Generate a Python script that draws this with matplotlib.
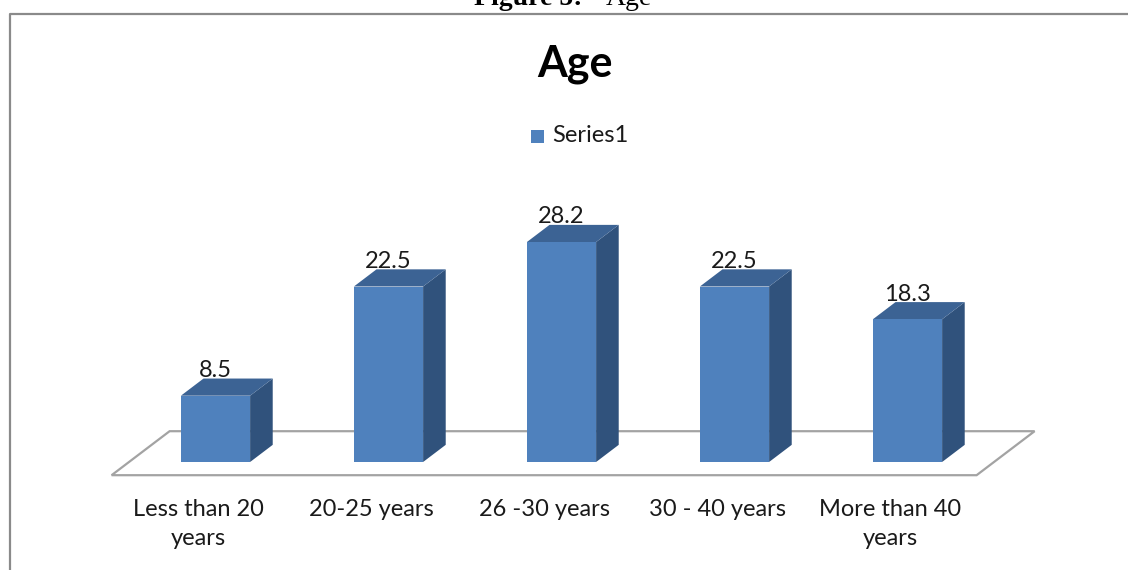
import matplotlib
matplotlib.use('Agg')
import matplotlib.pyplot as plt
from matplotlib.patches import Polygon, Rectangle
from matplotlib.lines import Line2D

categories = ['Less than 20\nyears', '20-25 years', '26 -30 years', '30 - 40 years', 'More than 40\nyears']
values = [8.5, 22.5, 28.2, 22.5, 18.3]
series_name = 'Series1'
chart_title = 'Age'

W, H = 1128, 570
FRONT = '#4F81BD'
TOP = '#3C6394'
SIDE = '#30527C'
FLOOR_EDGE = '#A3A3A3'

# pixel mapping of the plot: category spacing and value scale
X0_PX, STEP_PX = 215.5, 173.0
Y0_PX, UNIT_PX = 462.0, 7.8

BAR_W = 0.4
# depth vector of the whole floor (category units, value units)
DEPTH = (58 / STEP_PX, 44 / UNIT_PX)
BAR_DEPTH = 0.39
FLOOR_FRONT, FLOOR_BACK = -0.3, 0.7


def fx(px):
    return px / W


def fy(py):
    return 1 - py / H


fig = plt.figure(figsize=(W / 100, H / 100), dpi=100)
ax = fig.add_axes([0, 0, 1, 1])
ax.set_xlim(-X0_PX / STEP_PX, (W - X0_PX) / STEP_PX)
ax.set_ylim((Y0_PX - H) / UNIT_PX, Y0_PX / UNIT_PX)
ax.axis('off')

plt.rcParams['font.family'] = ['Lato', 'DejaVu Sans']

# floor
n = len(values)
x_left, x_right = -0.5, n - 0.5
floor = [
    (x_left + FLOOR_FRONT * DEPTH[0], FLOOR_FRONT * DEPTH[1]),
    (x_right + FLOOR_FRONT * DEPTH[0], FLOOR_FRONT * DEPTH[1]),
    (x_right + FLOOR_BACK * DEPTH[0], FLOOR_BACK * DEPTH[1]),
    (x_left + FLOOR_BACK * DEPTH[0], FLOOR_BACK * DEPTH[1]),
]
ax.add_patch(Polygon(floor, closed=True, facecolor='white', edgecolor=FLOOR_EDGE, lw=1.6, zorder=1))

# bars: front face, top and right side
dx, dy = BAR_DEPTH * DEPTH[0], BAR_DEPTH * DEPTH[1]
for i, v in enumerate(values):
    l, r = i - BAR_W / 2, i + BAR_W / 2
    ax.add_patch(Polygon([(r, 0), (r + dx, dy), (r + dx, v + dy), (r, v)],
                         facecolor=SIDE, edgecolor='none', zorder=2))
    ax.add_patch(Polygon([(l, v), (r, v), (r + dx, v + dy), (l + dx, v + dy)],
                         facecolor=TOP, edgecolor='none', zorder=2))
    ax.add_patch(Rectangle((l, 0), BAR_W, v, facecolor=FRONT, edgecolor='none', zorder=3))
    ax.text(i, v + dy + 0.2, f'{v}', ha='center', va='baseline', fontsize=17,
            color='#1a1a1a', zorder=4)
    ax.text(i + FLOOR_FRONT * DEPTH[0], (Y0_PX - 499) / UNIT_PX, categories[i],
            ha='center', va='top', fontsize=17, color='#1a1a1a', linespacing=1.45)

# title and legend
fig.text(fx(575), fy(64), chart_title, ha='center', va='center', fontsize=31,
         fontweight='bold', color='black')
fig.patches.append(Rectangle((fx(531), fy(143)), fx(13), 13 / H, facecolor=FRONT,
                             edgecolor='none', transform=fig.transFigure, figure=fig))
fig.text(fx(552), fy(136), series_name, ha='left', va='center', fontsize=17, color='#1a1a1a')

# chart border
fig.lines.append(Line2D([fx(9.5), fx(9.5), 1], [0, fy(13.5), fy(13.5)], color='#8a8a8a',
                        lw=1.6, transform=fig.transFigure, figure=fig))

# caption above the chart
fig.text(fx(582), fy(5), 'Figure 5:', ha='right', va='baseline', fontsize=20,
         fontweight='bold', family='Liberation Serif')
fig.text(fx(606), fy(5), 'Age', ha='left', va='baseline', fontsize=20,
         family='Liberation Serif')

fig.savefig('out.png', dpi=100)
